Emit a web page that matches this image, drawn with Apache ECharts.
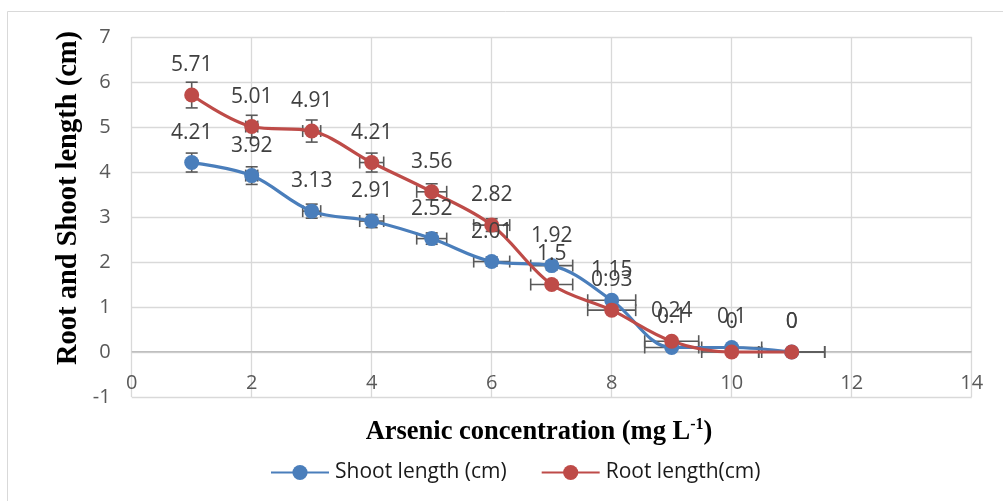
<!DOCTYPE html>
<html>
<head>
<meta charset="utf-8">
<script src="https://cdn.jsdelivr.net/npm/echarts@6/dist/echarts.min.js"></script>
<style>
  html, body { margin: 0; padding: 0; background: #ffffff; }
  #chart { width: 1003px; height: 501px; }
</style>
</head>
<body>
<div id="chart"></div>
<script>
// Arsenic concentration (mg L-1)
const concentration = [1, 2, 3, 4, 5, 6, 7, 8, 9, 10, 11];
// Mean lengths (cm)
const shootLength = [4.21, 3.92, 3.13, 2.91, 2.52, 2.01, 1.92, 1.15, 0.1, 0.1, 0];
const rootLength = [5.71, 5.01, 4.91, 4.21, 3.56, 2.82, 1.5, 0.93, 0.24, 0, 0];
// Error bars: percentage of the value, on both x and y
const errorPct = 0.05;

const blue = '#4A7EBB';
const red = '#BE4B48';
const errColor = '#595959';
const labelFont = 'Open Sans';

function pairs(ys) {
  return concentration.map((x, i) => [x, ys[i]]);
}

// Draws x and y percentage error bars with end caps
function errorBarItem(params, api) {
  const x = api.value(0);
  const y = api.value(1);
  const dx = x * errorPct;
  const dy = y * errorPct;
  const cap = 6;
  const style = { stroke: errColor, lineWidth: 1.6 };
  const children = [];
  const c = api.coord([x, y]);
  if (dy > 0) {
    const top = api.coord([x, y + dy]);
    const bot = api.coord([x, y - dy]);
    children.push(
      { type: 'line', shape: { x1: c[0], y1: top[1], x2: c[0], y2: bot[1] }, style },
      { type: 'line', shape: { x1: c[0] - cap, y1: top[1], x2: c[0] + cap, y2: top[1] }, style },
      { type: 'line', shape: { x1: c[0] - cap, y1: bot[1], x2: c[0] + cap, y2: bot[1] }, style }
    );
  }
  if (dx > 0) {
    const l = api.coord([x - dx, y]);
    const r = api.coord([x + dx, y]);
    children.push(
      { type: 'line', shape: { x1: l[0], y1: c[1], x2: r[0], y2: c[1] }, style },
      { type: 'line', shape: { x1: l[0], y1: c[1] - cap, x2: l[0], y2: c[1] + cap }, style },
      { type: 'line', shape: { x1: r[0], y1: c[1] - cap, x2: r[0], y2: c[1] + cap }, style }
    );
  }
  return { type: 'group', children };
}

function lineSeries(name, ys, color) {
  return {
    name,
    type: 'line',
    data: pairs(ys),
    smooth: 0.35,
    symbol: 'circle',
    symbolSize: 15,
    z: 3,
    itemStyle: { color },
    lineStyle: { color, width: 3.2 },
    label: {
      show: true,
      position: 'top',
      distance: 12,
      color: '#404040',
      fontFamily: labelFont,
      fontSize: 21,
      formatter: p => String(p.value[1])
    },
    emphasis: { disabled: true }
  };
}

function errorSeries(ys) {
  return {
    type: 'custom',
    data: pairs(ys),
    renderItem: errorBarItem,
    z: 2,
    silent: true,
    encode: { x: 0, y: 1 }
  };
}

const chart = echarts.init(document.getElementById('chart'), null, { renderer: 'canvas' });

chart.setOption({
  animation: false,
  backgroundColor: '#ffffff',
  grid: { left: 131.7, right: 31.3, top: 37, bottom: 104, containLabel: false },
  xAxis: {
    type: 'value',
    min: 0,
    max: 14,
    interval: 2,
    axisLine: { show: false },
    axisTick: { show: false },
    axisLabel: { inside: true, color: '#595959', fontFamily: labelFont, fontSize: 20, margin: 4 },
    splitLine: { show: true, lineStyle: { color: '#d9d9d9', width: 1.3 } }
  },
  yAxis: {
    type: 'value',
    min: -1,
    max: 7,
    interval: 1,
    axisLine: { show: false },
    axisTick: { show: false },
    axisLabel: { color: '#595959', fontFamily: labelFont, fontSize: 20, margin: 21 },
    splitLine: { show: true, lineStyle: { color: '#d9d9d9', width: 1.3 } }
  },
  legend: {
    left: 265,
    top: 457,
    itemWidth: 58,
    itemHeight: 19,
    itemGap: 34,
    textStyle: { color: '#1a1a1a', fontFamily: labelFont, fontSize: 21, padding: [0, 0, 0, 1] },
    data: ['Shoot length (cm)', 'Root length(cm)']
  },
  graphic: [
    {
      type: 'rect',
      silent: true,
      z: -10,
      shape: { x: 7.5, y: 11.5, width: 1010, height: 500 },
      style: { fill: 'none', stroke: '#d9d9d9', lineWidth: 1 }
    },
    {
      // zero baseline of the value axis
      type: 'line',
      silent: true,
      z: 1,
      shape: { x1: 131.7, y1: 351.7, x2: 971.7, y2: 351.7 },
      style: { stroke: '#bfbfbf', lineWidth: 1.5 }
    },
    {
      type: 'text',
      silent: true,
      x: 69,
      y: 198,
      rotation: Math.PI / 2,
      style: {
        text: 'Root and Shoot length (cm)',
        font: 'bold 28.5px "Liberation Serif"',
        fill: '#000000',
        align: 'center',
        verticalAlign: 'middle'
      }
    },
    {
      type: 'text',
      silent: true,
      x: 539,
      y: 432,
      style: {
        text: '{m|Arsenic concentration (mg L}{s|-1}{m|)}',
        align: 'center',
        verticalAlign: 'middle',
        rich: {
          m: { font: 'bold 26.5px "Liberation Serif"', fill: '#000000', lineHeight: 30 },
          s: { font: 'bold 16px "Liberation Serif"', fill: '#000000', verticalAlign: 'top', lineHeight: 30 }
        }
      }
    }
  ],
  series: [
    errorSeries(shootLength),
    errorSeries(rootLength),
    lineSeries('Shoot length (cm)', shootLength, blue),
    lineSeries('Root length(cm)', rootLength, red)
  ]
});
</script>
</body>
</html>
